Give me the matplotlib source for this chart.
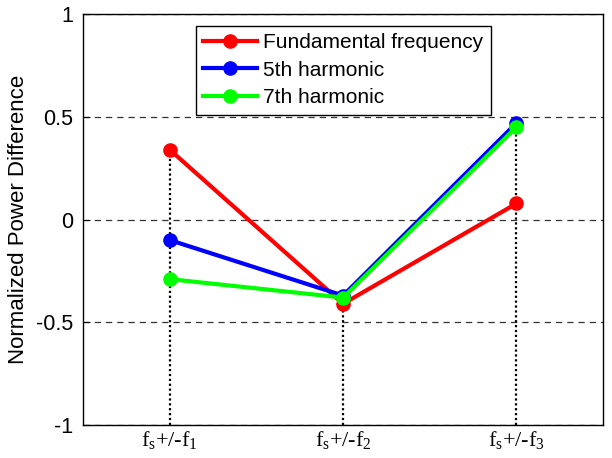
import numpy as np
import matplotlib
matplotlib.use('Agg')
import matplotlib.pyplot as plt

plt.rcParams['font.family'] = ['Liberation Sans', 'DejaVu Sans']
plt.rcParams['mathtext.fontset'] = 'custom'
plt.rcParams['mathtext.rm'] = 'Liberation Serif'
plt.rcParams['mathtext.it'] = 'Liberation Serif'

# data
positions = [1, 2, 3]
tick_labels = [r'$\mathrm{f_s}$+/-$\mathrm{f_1}$',
               r'$\mathrm{f_s}$+/-$\mathrm{f_2}$',
               r'$\mathrm{f_s}$+/-$\mathrm{f_3}$']
fundamental = [0.34, -0.41, 0.078]
harm5 = [-0.10, -0.37, 0.47]
harm7 = [-0.29, -0.38, 0.45]

series = [
    ('Fundamental frequency', fundamental, '#ff0000'),
    ('5th harmonic', harm5, '#0000ff'),
    ('7th harmonic', harm7, '#00ff00'),
]

fig = plt.figure(figsize=(6.12, 4.58), dpi=100)
ax = fig.add_axes([0.1356, 0.072, 0.85, 0.8974])

# dotted stems from the highest point down to the bottom
tops = np.max([fundamental, harm5, harm7], axis=0)
ax.vlines(positions, -1, tops, colors='black', linestyles=(0, (1, 1.2)),
          linewidth=1.6, zorder=2)

for name, vals, col in series:
    ax.plot(positions, vals, '-o', color=col, linewidth=3.0, markersize=9.5,
            label=name, zorder=3)

ax.set_xlim(0.5, 3.5)
ax.set_ylim(-1, 1)
ax.set_yticks([-1, -0.5, 0, 0.5, 1])
ax.set_yticklabels(['-1', '-0.5', '0', '0.5', '1'])
ax.set_xticks(positions)
ax.set_xticklabels(tick_labels, fontsize=16, family='Liberation Serif')
ax.tick_params(axis='y', labelsize=15.5, direction='in', length=5, pad=7)
ax.tick_params(axis='x', direction='in', length=0, pad=3)
ax.yaxis.grid(True, linestyle=(0, (5, 4)), color='#333333', linewidth=0.9)
ax.set_axisbelow(True)
for s in ax.spines.values():
    s.set_linewidth(1.0)
ax.set_ylabel('Normalized Power Difference', fontsize=16, labelpad=5)

leg = ax.legend(loc='upper center', bbox_to_anchor=(0.5, 0.972), fontsize=15,
                fancybox=False, edgecolor='black', framealpha=1,
                handlelength=2.6, borderpad=0.35, labelspacing=0.42,
                handletextpad=0.3, borderaxespad=0)
leg.get_frame().set_linewidth(1.0)

plt.savefig('out.png', dpi=100)
